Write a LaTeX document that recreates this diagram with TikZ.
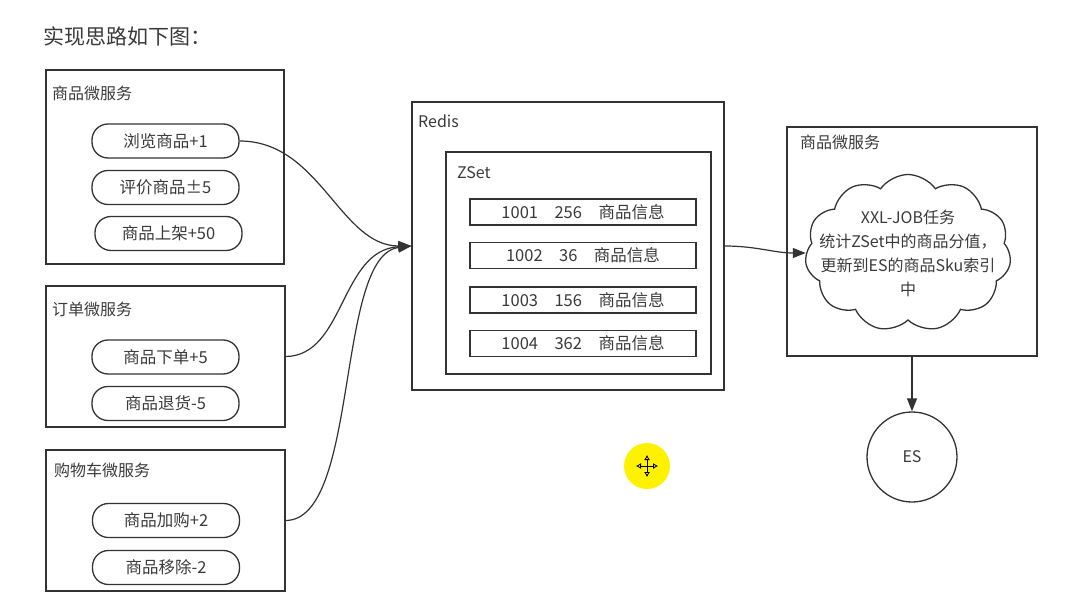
\documentclass[tikz,border=0pt]{standalone}
\usepackage{fontspec}
\setmainfont{Noto Sans CJK SC}
\usetikzlibrary{shapes.symbols,arrows.meta,positioning}
\definecolor{linecol}{HTML}{333333}
\definecolor{txtcol}{HTML}{3A3A3A}
\tikzset{
  svcbox/.style={draw=linecol, line width=1.3pt, inner sep=0pt},
  pill/.style={draw=linecol, line width=1.3pt, rounded corners=16pt, minimum width=147pt, minimum height=34pt, inner sep=0pt, font=\fontsize{16.5}{18}\selectfont, text=txtcol},
  rowbox/.style={draw=linecol, line width=1.3pt, minimum width=226pt, minimum height=26pt, inner sep=0pt, font=\fontsize{16.5}{18}\selectfont, text=txtcol},
  lbl/.style={anchor=west, inner sep=0pt, font=\fontsize{16}{18}\selectfont, text=txtcol},
  link/.style={draw=linecol, line width=1.2pt, -{Triangle[length=13pt,width=10pt]}}
}
\begin{document}
\begin{tikzpicture}[x=1pt,y=-1pt]
\useasboundingbox (0,0) rectangle (1068,599);
\node[anchor=west, inner sep=0pt, font=\fontsize{21}{24}\selectfont, text=txtcol] (title) at (43,36) {实现思路如下图：};
% left services
\node[svcbox, minimum width=238pt, minimum height=194pt] (goods) at (165,167) {};
\node[lbl] (goodslbl) at (52,93) {商品微服务};
\node[pill] (browse) at (165.5,141) {浏览商品+1};
\node[pill] (rate) at (165.5,187.5) {评价商品±5};
\node[pill] (shelf) at (168.5,233.5) {商品上架+50};
\node[svcbox, minimum width=239pt, minimum height=141pt] (order) at (165.5,356.5) {};
\node[lbl] (orderlbl) at (52,309) {订单微服务};
\node[pill] (place) at (165.5,357) {商品下单+5};
\node[pill] (refund) at (165.5,403.5) {商品退货-5};
\node[svcbox, minimum width=239pt, minimum height=141pt] (cart) at (165.5,520.5) {};
\node[lbl] (cartlbl) at (54,470) {购物车微服务};
\node[pill] (cartadd) at (166,520.5) {商品加购+2};
\node[pill] (cartdel) at (166,567.5) {商品移除-2};
% redis
\node[svcbox, minimum width=312pt, minimum height=288pt] (redis) at (568,246) {};
\node[lbl] (redislbl) at (418,121) {Redis};
\node[svcbox, minimum width=265pt, minimum height=222pt] (zset) at (578.5,263) {};
\node[lbl] (zsetlbl) at (457,173) {ZSet};
\node[rowbox] (row1) at (583,212) {1001\quad 256\quad 商品信息};
\node[rowbox] (row2) at (583,255.5) {1002\quad 36\quad 商品信息};
\node[rowbox] (row3) at (583,300) {1003\quad 156\quad 商品信息};
\node[rowbox] (row4) at (583,343.5) {1004\quad 362\quad 商品信息};
% right service
\node[svcbox, minimum width=250pt, minimum height=229pt] (job) at (912,241.5) {};
\node[lbl] (joblbl) at (800,142) {商品微服务};
\node[cloud, cloud puffs=11, cloud puff arc=110, aspect=1.32, draw=linecol, line width=1.3pt, minimum width=206pt, minimum height=157pt, inner sep=0pt] (task) at (908,253) {};
\node[align=center, inner sep=0pt, font=\fontsize{16}{24}\selectfont, text=txtcol] (tasktxt) at (task.center) {XXL-JOB任务\\统计ZSet中的商品分值，\\更新到ES的商品Sku索引\\中};
\node[draw=linecol, line width=1.3pt, circle, minimum size=90pt, inner sep=0pt, font=\fontsize{16}{18}\selectfont, text=txtcol] (es) at (912,457) {ES};
% cursor
\node[circle, fill=yellow, minimum size=46pt, inner sep=0pt] (cursor) at (647,466) {};
\draw[black, line width=0.8pt, {Latex[open,length=5pt,width=6pt]}-{Latex[open,length=5pt,width=6pt]}] ([xshift=-11pt]cursor.center) -- ([xshift=11pt]cursor.center);
\draw[black, line width=0.8pt, {Latex[open,length=5pt,width=6pt]}-{Latex[open,length=5pt,width=6pt]}] ([yshift=-11pt]cursor.center) -- ([yshift=11pt]cursor.center);
% links
\draw[link] (browse.east) .. controls (320,141) and (340,246) .. (redis.west);
\draw[link] (order.east) .. controls (345,356) and (340,250) .. (redis.west);
\draw[link] (cart.east) .. controls (360,520) and (335,255) .. (redis.west);
\draw[link] (redis.east) to[out=0,in=180] (task.west);
\draw[link] (job.south) -- (es.north);
\end{tikzpicture}
\end{document}
